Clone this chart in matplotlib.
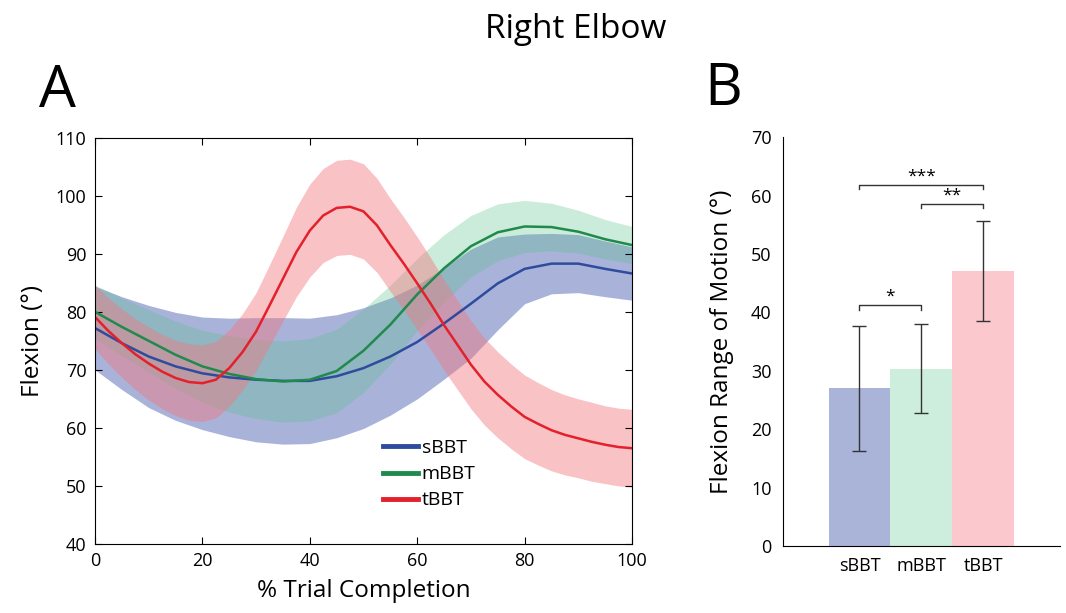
import numpy as np
import matplotlib.pyplot as plt

plt.rcParams['font.family'] = ['Open Sans', 'DejaVu Sans']

# Panel A: mean elbow flexion (deg) +/- SD over % trial completion
pct5 = [0, 5, 10, 15, 20, 25, 30, 35, 40, 45, 50, 55, 60, 65, 70, 75, 80, 85, 90, 95, 100]
pct25 = [0, 2.5, 5, 7.5, 10, 12.5, 15, 17.5, 20, 22.5, 25, 27.5, 30, 32.5, 35, 37.5, 40, 42.5,
         45, 47.5, 50, 52.5, 55, 57.5, 60, 62.5, 65, 67.5, 70, 72.5, 75, 77.5, 80, 82.5, 85,
         87.5, 90, 92.5, 95, 97.5, 100]

sbbt_mean = [77.2, 74.6, 72.3, 70.6, 69.4, 68.7, 68.3, 68.1, 68.1, 68.9, 70.3, 72.3, 74.8, 78.0,
             81.4, 84.9, 87.4, 88.3, 88.3, 87.4, 86.6]
sbbt_sd = [7.2, 8.0, 8.8, 9.3, 9.7, 10.2, 10.7, 10.9, 10.8, 10.6, 10.4, 10.1, 9.8, 9.6, 9.4,
           8.0, 6.0, 5.2, 5.0, 4.8, 4.6]

mbbt_mean = [80.0, 77.4, 75.0, 72.6, 70.6, 69.3, 68.4, 68.0, 68.3, 69.8, 73.3, 77.8, 83.0, 87.5,
             91.3, 93.7, 94.7, 94.6, 93.8, 92.5, 91.5]
mbbt_sd = [4.6, 5.0, 5.4, 5.8, 6.2, 6.6, 6.8, 7.0, 7.1, 7.2, 7.2, 6.8, 6.2, 5.8, 5.3, 4.9, 4.5,
           4.1, 3.7, 3.4, 3.2]

tbbt_mean = [79.1, 76.7, 74.6, 72.7, 71.1, 69.7, 68.6, 67.9, 67.7, 68.3, 70.3, 73.1, 76.6, 81.1,
             85.7, 90.3, 94.0, 96.6, 97.9, 98.1, 97.3, 94.9, 91.5, 88.3, 84.9, 81.4, 77.7, 74.3,
             70.9, 68.0, 65.7, 63.7, 61.9, 60.7, 59.6, 58.8, 58.2, 57.6, 57.1, 56.7, 56.5]
tbbt_sd = [5.5, 5.7, 5.9, 6.1, 6.3, 6.4, 6.5, 6.6, 6.6, 6.6, 6.6, 6.6, 6.7, 7.0, 7.3, 7.7, 8.0,
           8.1, 8.2, 8.2, 8.2, 8.1, 8.0, 8.0, 8.0, 7.9, 7.8, 7.7, 7.6, 7.5, 7.4, 7.3, 7.2, 7.1,
           7.0, 6.9, 6.8, 6.8, 6.7, 6.7, 6.7]

# Panel B: flexion range of motion (mean, SD)
conditions = ['sBBT', 'mBBT', 'tBBT']
rom_mean = [27.0, 30.4, 47.1]
rom_sd = [10.7, 7.7, 8.5]

line_colors = ['#2f4b9e', '#1f8a4c', '#e3202b']
band_colors = ['#5468b4', '#55c08a', '#f27880']
bar_colors = ['#a9b4d8', '#cdeedc', '#fac8cd']

fig = plt.figure(figsize=(10.66, 6.13), dpi=100)
axA = fig.add_axes([0.0891, 0.1126, 0.5038, 0.6628])
axB = fig.add_axes([0.7343, 0.1093, 0.2599, 0.6667])

series = [(pct5, sbbt_mean, sbbt_sd), (pct5, mbbt_mean, mbbt_sd), (pct25, tbbt_mean, tbbt_sd)]
alphas = [0.5, 0.3, 0.45]
for (x, m, s), bc, a in zip(series, band_colors, alphas):
    x, m, s = np.array(x), np.array(m), np.array(s)
    axA.fill_between(x, m - s, m + s, color=bc, alpha=a, lw=0)
for (x, m, s), lc, name in zip(series, line_colors, conditions):
    axA.plot(x, m, color=lc, lw=1.8, label=name)

axA.set_xlim(0, 100)
axA.set_ylim(40, 110)
axA.set_xticks(range(0, 101, 20))
axA.set_yticks(range(40, 111, 10))
axA.tick_params(direction='in', top=True, right=True, length=5, labelsize=13, pad=6)
axA.set_xlabel('% Trial Completion', fontsize=17.5, labelpad=6)
axA.set_ylabel('Flexion (°)', fontsize=17.5, labelpad=8)
leg = axA.legend(loc='upper left', bbox_to_anchor=(0.536, 0.258), frameon=False, fontsize=14,
                 handlelength=1.8, handletextpad=0.2, labelspacing=0.42,
                 borderpad=0, borderaxespad=0)
for h in leg.get_lines():
    h.set_linewidth(3.5)

idx = np.arange(len(conditions))
axB.bar(idx, rom_mean, width=1.0, color=bar_colors, lw=0)
axB.errorbar(idx, rom_mean, yerr=rom_sd, fmt='none', ecolor='#333333', elinewidth=1,
             capsize=5, capthick=1)
axB.set_xlim(-1.24, 3.24)
axB.set_ylim(0, 70)
axB.set_xticks(idx)
axB.set_xticklabels(conditions)
axB.set_yticks(range(0, 71, 10))
axB.tick_params(length=0, labelsize=13, pad=8)
axB.spines['top'].set_visible(False)
axB.spines['right'].set_visible(False)
axB.set_ylabel('Flexion Range of Motion (°)', fontsize=17.5, labelpad=12)


def bracket(ax, x0, x1, y, text):
    ax.plot([x0, x0, x1, x1], [y - 0.7, y, y, y - 0.7], color='#333333', lw=1)
    ax.text((x0 + x1) / 2, y + 0.1, text, ha='center', va='bottom', fontsize=12.5)


bracket(axB, 0, 2, 61.8, '***')
bracket(axB, 1, 2, 58.6, '**')
bracket(axB, 0, 1, 41.2, '*')

fig.text(0.54, 0.952, 'Right Elbow', ha='center', va='center', fontsize=24)
fig.text(0.054, 0.85, 'A', ha='center', va='center', fontsize=42)
fig.text(0.678, 0.853, 'B', ha='center', va='center', fontsize=42)

fig.savefig('out.png', dpi=100)
